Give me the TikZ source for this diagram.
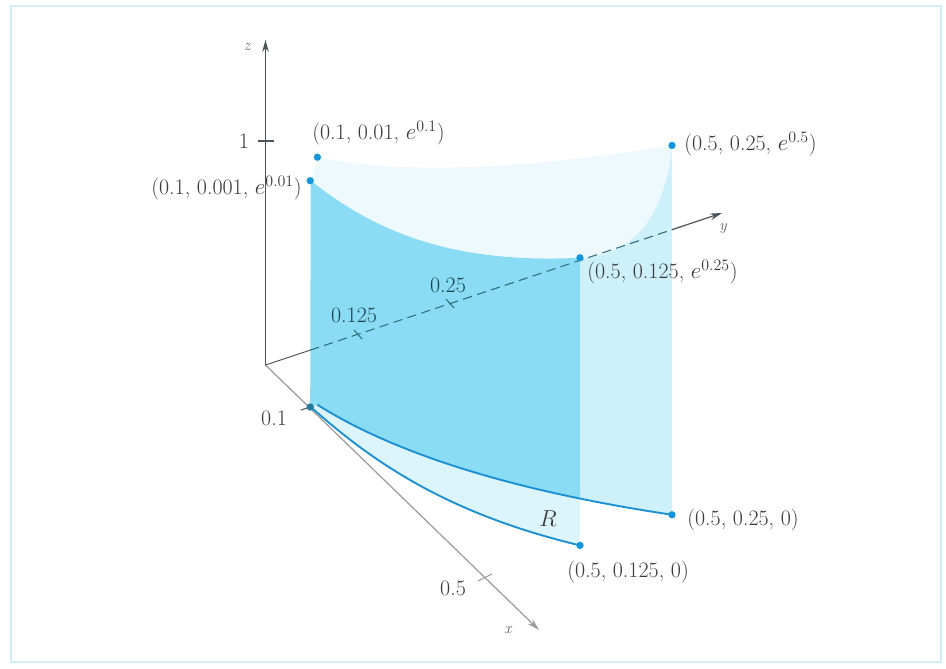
\documentclass[tikz,border=0pt]{standalone}
\usetikzlibrary{arrows.meta}
\definecolor{curveblue}{HTML}{1A8FD2}
\definecolor{dotblue}{HTML}{1596D8}
\definecolor{darkfill}{HTML}{8ADBF4}
\definecolor{capfill}{HTML}{CDF0FA}
\definecolor{topfill}{HTML}{EEF9FD}
\definecolor{rfill}{HTML}{DCF4FB}
\definecolor{labelgray}{HTML}{3A3A3A}
\definecolor{axisgray}{HTML}{4A5458}
\definecolor{xaxisgray}{HTML}{9A9A9A}
\definecolor{dashteal}{HTML}{2F6F80}
\definecolor{framecol}{HTML}{CFEEF8}
\begin{document}
\begin{tikzpicture}[x=0.75pt,y=-0.75pt,
  declare function={PX(\a,\b)=265.5+445*\a+736*\b; PY(\a,\b,\c)=365+422*\a-245*\b-224*\c;},
  lbl/.style={text=labelgray, font=\fontsize{16.5}{19}\selectfont, inner sep=0pt},
  axlbl/.style={text=labelgray!80, font=\fontsize{12}{14}\selectfont\itshape, inner sep=0pt},
  dot/.style={circle, fill=dotblue, inner sep=0pt, minimum size=5.5pt},
  curve/.style={draw=curveblue, line width=1.4pt},
  axisline/.style={draw=axisgray, line width=0.9pt},
  tip/.style={-{Stealth[length=9pt,width=5pt]}},
  tick/.style={draw=axisgray, line width=0.8pt}]
\useasboundingbox (0,0) rectangle (946,668);
\draw[framecol, line width=1.6pt] (11,6) rectangle (941,662);

% coordinates
\coordinate (O) at (265.5,365);
\coordinate (ztop) at (265.5,40);
\coordinate (xtip) at (539,630);
\coordinate (yP1) at (310,350.2);
\coordinate (yP2) at (672,229.7);
\coordinate (ytip) at (722,213);
\coordinate (M) at (580,498.6);
\coordinate (C1) at (580,257.8);
\coordinate (D1) at (672,145.4);
\coordinate (D0) at (672,514.8);

% top surface (very light)
\fill[topfill]
  plot[variable=\t,domain=0.1:0.5,samples=40] ({PX(\t,\t^3)},{PY(\t,\t^3,exp(\t^2))})
  .. controls (640,256) and (667,205) .. (D1)
  -- plot[variable=\u,domain=0:1,samples=40] ({PX(0.5-0.4*\u,(0.5-0.4*\u)^2)},{PY(0.5-0.4*\u,(0.5-0.4*\u)^2,exp(0.5-0.4*\u))})
  -- cycle;
% cap face (light cyan)
\fill[capfill] (C1) .. controls (640,256) and (667,205) .. (D1)
  -- (D0)
  -- plot[variable=\u,domain=0:1,samples=20] ({PX(0.5-0.082*\u,(0.5-0.082*\u)^2)},{PY(0.5-0.082*\u,(0.5-0.082*\u)^2,0)})
  -- cycle;
% front wall (dark)
\fill[darkfill] (310.2,407)
  -- plot[variable=\t,domain=0.1:0.5,samples=40] ({PX(\t,\t^3)},{PY(\t,\t^3,exp(\t^2))})
  -- (M)
  -- plot[variable=\u,domain=0:1,samples=30] ({PX(0.418-0.318*\u,(0.418-0.318*\u)^2)},{PY(0.418-0.318*\u,(0.418-0.318*\u)^2,0)})
  -- cycle;
% region R
\fill[rfill]
  plot[variable=\t,domain=0.1:0.5,samples=40] ({PX(\t,\t^3)},{PY(\t,\t^3,0)})
  -- (M)
  -- plot[variable=\u,domain=0:1,samples=30] ({PX(0.418-0.318*\u,(0.418-0.318*\u)^2)},{PY(0.418-0.318*\u,(0.418-0.318*\u)^2,0)})
  -- cycle;

% axes
\draw[xaxisgray, line width=0.9pt, tip] (O) -- (xtip);
\draw[axisline, tip] (O) -- (ztop);
\draw[axisline, line width=0.7pt] (O) -- (yP1);
\draw[dashteal, line width=0.8pt, dash pattern=on 7pt off 4pt] (yP1) -- (yP2);
\draw[axisline, tip] (yP2) -- (ytip);

% base curves
\draw[curve] plot[variable=\t,domain=0.1:0.5,samples=40] ({PX(\t,\t^3)},{PY(\t,\t^3,0)});
\draw[curve] plot[variable=\t,domain=0.1:0.5,samples=40] ({PX(\t,\t^2)},{PY(\t,\t^2,0)});

% ticks
\draw[tick] (258,141) -- (274,141);
\draw[tick, draw=dashteal] (354,330) -- (362,339);
\draw[tick, draw=dashteal] (446,299) -- (454,308);
\draw[tick] (301,410) -- (310,407);
\draw[tick, draw=xaxisgray] (478,581) -- (492,574);

% dots
\node[dot, fill=dashteal!70!dotblue] (a0) at (310.2,407) {};
\node[dot] (a1) at (310.2,180.7) {};
\node[dot] (b1) at (317.4,157.2) {};
\node[dot] (c1) at (C1) {};
\node[dot] (d1) at (D1) {};
\node[dot] (c0) at (580,545.4) {};
\node[dot] (d0) at (D0) {};

% labels
\node[axlbl] (zl) at (247,47) {z};
\node[axlbl] (yl) at (723,229) {y};
\node[axlbl] (xl) at (508,630) {x};
\node[lbl] (one) at (244,141) {1};
\node[lbl, anchor=west] (lb1) at (312,133) {(0.1, 0.01, $e^{0.1}$)};
\node[lbl, anchor=east] (la1) at (302,188) {(0.1, 0.001, $e^{0.01}$)};
\node[lbl, anchor=west] (ld1) at (684,144) {(0.5, 0.25, $e^{0.5}$)};
\node[lbl, anchor=west] (lc1) at (587,272) {(0.5, 0.125, $e^{0.25}$)};
\node[lbl, text=dashteal!60!black] (l0125) at (354,315) {0.125};
\node[lbl, text=dashteal!60!black] (l025) at (448,285) {0.25};
\node[lbl] (l01) at (274,418) {0.1};
\node[lbl] (lR) at (548,519) {$R$};
\node[lbl, anchor=west] (ld0) at (687,520) {(0.5, 0.25, 0)};
\node[lbl, anchor=west] (lc0) at (567,572) {(0.5, 0.125, 0)};
\node[lbl] (l05) at (453,588) {0.5};
\end{tikzpicture}
\end{document}
